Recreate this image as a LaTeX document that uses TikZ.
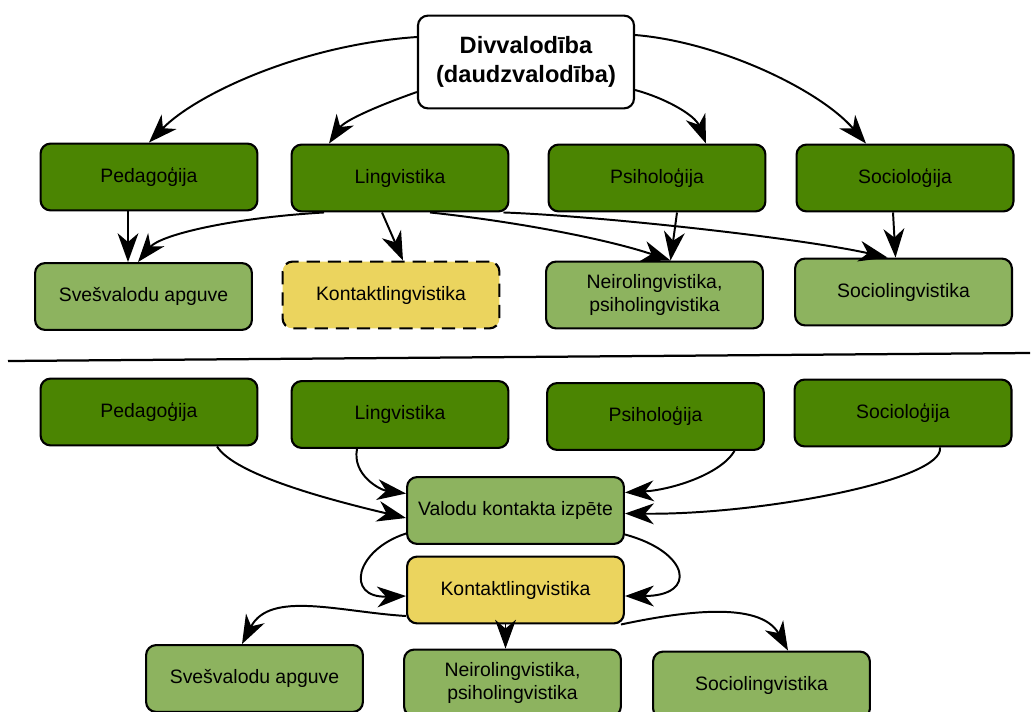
\documentclass[tikz,border=0pt]{standalone}
\usepackage{fontspec}
\setmainfont{Liberation Sans}
\usepackage{tikz}
\usetikzlibrary{
  arrows.meta,
  positioning,
  calc
}
\definecolor{dvDark}{HTML}{4B8502}
\definecolor{dvLight}{HTML}{8DB35F}
\definecolor{dvYellow}{HTML}{EBD45E}
\tikzset{
  dvnode/.style={
    draw, rounded corners=0.25cm, line width=1.5pt, minimum width=5.42cm,
    minimum height=1.67cm, align=center, inner sep=2pt,
    font=\fontsize{13.8}{15.8}\selectfont
  },
  field/.style={dvnode, fill=dvDark},
  subfield/.style={dvnode, fill=dvLight},
  contact/.style={dvnode, fill=dvYellow},
  rootbox/.style={dvnode, fill=white, minimum width=5.4cm, minimum height=2.32cm,
    font=\fontsize{16.8}{21}\selectfont\bfseries},
  link/.style={-{Stealth[length=7.2mm, width=5.2mm, inset=2.2mm]}, line width=1.4pt},
  divider/.style={line width=1.6pt}
}

\begin{document}
\begin{tikzpicture}[x=0.025cm, y=-0.025cm]
  \useasboundingbox (0,0) rectangle (1036,711);
  \clip (0,0) rectangle (1036,711);

  % upper part
  \node[rootbox] (root) at (526,62) {Divvalodība\\(daudzvalodība)};
  \node[field] (ped1) at (149,177) {Pedagoģija};
  \node[field] (lin1) at (400,178) {Lingvistika};
  \node[field] (psy1) at (657,178) {Psiholoģija};
  \node[field] (soc1) at (905,178) {Socioloģija};
  \node[subfield] (sve1) at (143.5,296.5) {Svešvalodu apguve};
  \node[contact, dash pattern=on 0.33cm off 0.2cm] (kon1) at (391,295) {Kontaktlingvistika};
  \node[subfield] (neu1) at (654.5,295) {Neirolingvistika,\\psiholingvistika};
  \node[subfield] (scl1) at (903.5,292) {Sociolingvistika};

  \draw[link] ($(root.west)+(0,-25)$) .. controls (300,45) and (195,95) .. (ped1.north);
  \draw[link] ($(root.west)+(0,30)$) .. controls (380,105) and (345,120) .. ($(lin1.north)+(-71,0)$);
  \draw[link] ($(root.east)+(0,28)$) .. controls (665,98) and (695,115) .. ($(psy1.north)+(49,0)$);
  \draw[link] ($(root.east)+(0,-27)$) .. controls (720,42) and (820,90) .. ($(soc1.north)+(-39,0)$);
  \draw[link] ($(ped1.south)+(-21,0)$) coordinate (p1) -- (p1 |- sve1.north);
  \draw[link] ($(lin1.south)+(-76,0)$) .. controls (230,218) and (160,235) .. ($(sve1.north)+(-5.5,0)$);
  \draw[link] ($(lin1.south)+(-18,0)$) -- ($(kon1.north)+(12,0)$);
  \draw[link] ($(lin1.south)+(30,0)$) .. controls (520,222) and (610,240) .. ($(neu1.north)+(16,0)$);
  \draw[link] ($(lin1.south east)+(-6,0)$) .. controls (600,216) and (800,238) .. ($(scl1.north)+(-16,0)$);
  \draw[link] ($(psy1.south)+(20,0)$) -- ($(neu1.north)+(16,0)$);
  \draw[link] ($(soc1.south)+(-12,0)$) -- ($(scl1.north)+(-8,0)$);

  \draw[divider] (8,361) -- (1030,353);

  % lower part
  \node[field] (ped2) at (149,412) {Pedagoģija};
  \node[field] (lin2) at (400,414.5) {Lingvistika};
  \node[field] (psy2) at (655.5,416.5) {Psiholoģija};
  \node[field] (soc2) at (903,413) {Socioloģija};
  \node[subfield] (val) at (515.5,510.5) {Valodu kontakta izpēte};
  \node[contact] (kon2) at (515.5,590) {Kontaktlingvistika};
  \node[subfield] (sve2) at (254.5,678.5) {Svešvalodu apguve};
  \node[subfield] (neu2) at (512.5,683) {Neirolingvistika,\\psiholingvistika};
  \node[subfield] (scl2) at (761.5,685) {Sociolingvistika};

  \draw[link] ($(ped2.south)+(68,0)$) .. controls (235,475) and (330,500) .. ($(val.west)+(0,7.5)$);
  \draw[link] ($(lin2.south)+(-43,0)$) .. controls (352,475) and (380,490) .. ($(val.west)+(0,-17)$);
  \draw[link] ($(psy2.south)+(79,0)$) .. controls (720,475) and (670,490) .. ($(val.east)+(0,-18)$);
  \draw[link] ($(soc2.south)+(37,0)$) .. controls (945,480) and (760,515) .. ($(val.east)+(0,3)$);
  \draw[link] ($(val.west)+(0,23)$) .. controls (355,550) and (345,598) .. ($(kon2.west)+(0,6)$);
  \draw[link] ($(val.east)+(0,24)$) .. controls (690,552) and (698,596) .. ($(kon2.east)+(0,6)$);
  \draw[link] ($(kon2.west)+(0,26)$) .. controls (340,612) and (270,590) .. ($(sve2.north)+(-12.5,0)$);
  \draw[link] ($(kon2.south)+(-10,0)$) coordinate (p2) -- (p2 |- neu2.north);
  \draw[link] ($(kon2.south east)+(-4,0)$) .. controls (680,612) and (760,600) .. ($(scl2.north)+(26.5,0)$);
\end{tikzpicture}
\end{document}
